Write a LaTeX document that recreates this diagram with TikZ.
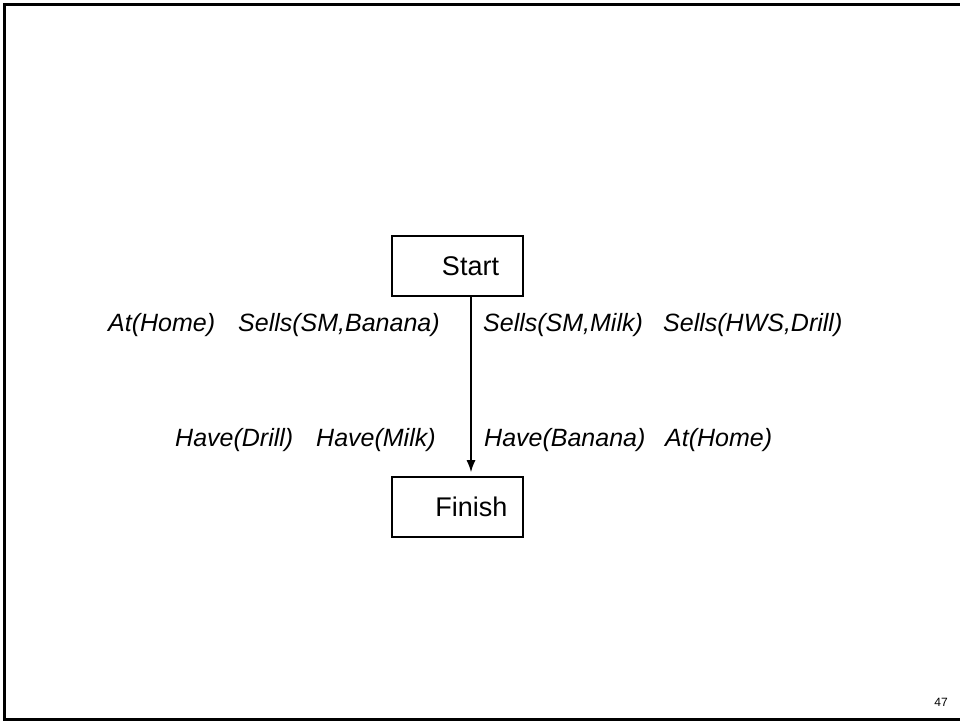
\documentclass[tikz,border=0pt]{standalone}
\usepackage{fontspec}
\setmainfont{Liberation Sans}
\usetikzlibrary{arrows.meta}

\begin{document}
\begin{tikzpicture}[x=1pt, y=-1pt,
    schritt/.style={draw, line width=1.6pt, minimum width=131pt, minimum height=60pt, inner sep=0pt,
      font=\fontsize{27}{30}\selectfont},
    bed/.style={inner sep=0pt, anchor=base west, font=\fontsize{25}{28}\selectfont\itshape},
    pfeil/.style={line width=1.4pt, -{Latex[length=12pt,width=9pt]}, shorten >=4pt}]
  \useasboundingbox (0,0) rectangle (960,721);

  % Rahmen (rechts abgeschnitten)
  \begin{scope}
    \clip (0,0) rectangle (960,721);
    \draw[line width=3pt] (4.5,4) rectangle (975,719);
  \end{scope}

  % Schritte
  \node[schritt] (start) at (457.5,266) {\hspace*{26pt}Start};
  \node[schritt] (finish) at (457.5,507) {\hspace*{28pt}Finish};

  % Verbindung Start -> Finish
  \coordinate (aus) at ([xshift=13.5pt]start.south);
  \draw[pfeil] (aus) -- (aus |- finish.north);

  % Effekte von Start
  \node[bed] (eff1) at (108,331) {At(Home)};
  \node[bed] (eff2) at (238,331) {Sells(SM,Banana)};
  \node[bed] (eff3) at (483,331) {Sells(SM,Milk)};
  \node[bed] (eff4) at (663,331) {Sells(HWS,Drill)};

  % Vorbedingungen von Finish
  \node[bed] (pre1) at (175,446) {Have(Drill)};
  \node[bed] (pre2) at (316,446) {Have(Milk)};
  \node[bed] (pre3) at (484,446) {Have(Banana)};
  \node[bed] (pre4) at (665,446) {At(Home)};

  % Seitenzahl
  \node[font=\fontsize{12}{14}\selectfont, inner sep=0pt] (seite) at (941,702) {47};
\end{tikzpicture}
\end{document}
